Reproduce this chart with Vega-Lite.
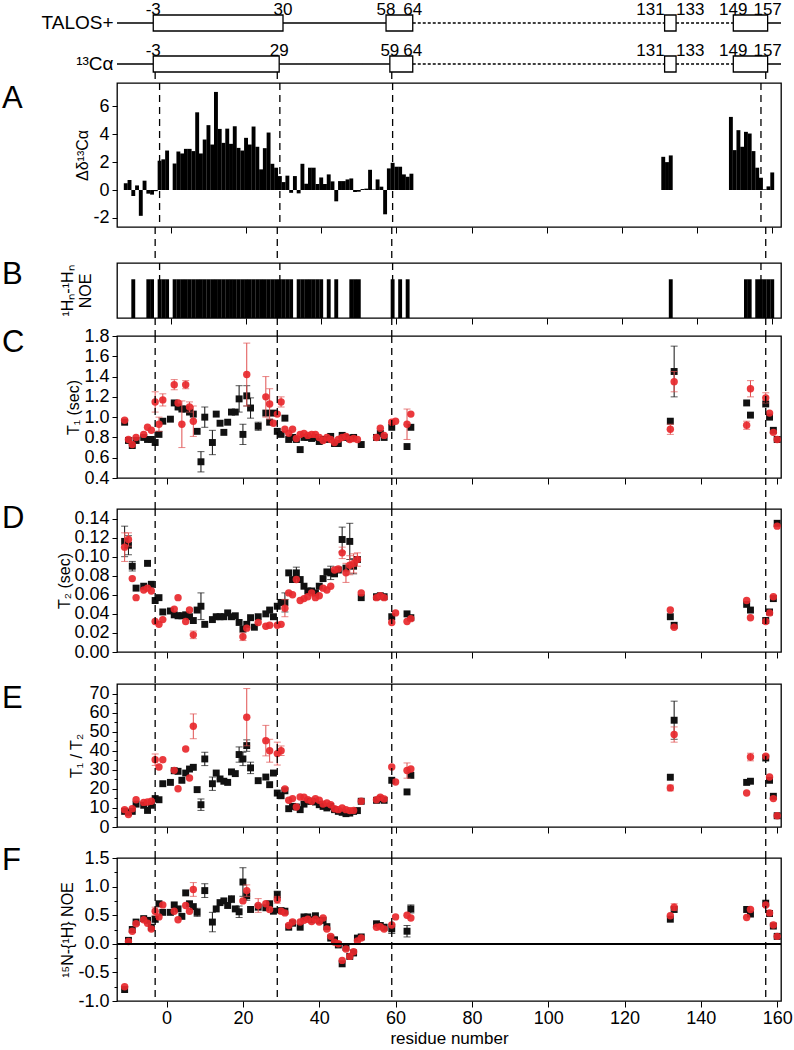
{
"$schema": "https://vega.github.io/schema/vega-lite/v6.json",
"padding": {"left": 1, "top": 0, "right": 0, "bottom": 5},
"background": "white",
"config": {
 "font": "Liberation Sans",
 "view": {"stroke": "#000", "strokeWidth": 1.3},
 "axis": {"domain": false, "grid": false, "tickColor": "#000", "tickSize": 5, "labelColor": "#000", "labelFontSize": 18, "labelFont": "Liberation Sans", "titleFont": "Liberation Sans", "titleFontSize": 16, "titleFontWeight": "normal", "titleColor": "#000", "labelPadding": 3, "titlePadding": 3, "labelOverlap": false, "labelFlush": false, "labelBound": false},
 "title": {"font": "Liberation Sans", "fontSize": 31, "fontWeight": "normal", "color": "#000", "orient": "top", "anchor": "start", "frame": "group", "align": "left", "baseline": "middle", "dx": -115, "offset": 0}
},
"datasets": {
 "dash": [{"x": -3}, {"x": 29}, {"x": 59}, {"x": 157}],
 "seg": [
  {"row": "TALOS+", "a": -13, "b": -3.5, "k": "line"},
  {"row": "TALOS+", "a": -3.5, "b": 30.5, "k": "box"},
  {"row": "TALOS+", "a": 30.5, "b": 57.5, "k": "line"},
  {"row": "TALOS+", "a": 57.5, "b": 64.5, "k": "box"},
  {"row": "TALOS+", "a": 64.5, "b": 130.5, "k": "dash"},
  {"row": "TALOS+", "a": 130.5, "b": 133.5, "k": "dbox"},
  {"row": "TALOS+", "a": 133.5, "b": 148.5, "k": "dash"},
  {"row": "TALOS+", "a": 148.5, "b": 157.5, "k": "box"},
  {"row": "TALOS+", "a": 157.5, "b": 161, "k": "line"},
  {"row": "¹³Cα", "a": -13, "b": -3.5, "k": "line"},
  {"row": "¹³Cα", "a": -3.5, "b": 29.5, "k": "box"},
  {"row": "¹³Cα", "a": 29.5, "b": 58.5, "k": "line"},
  {"row": "¹³Cα", "a": 58.5, "b": 64.5, "k": "box"},
  {"row": "¹³Cα", "a": 64.5, "b": 130.5, "k": "dash"},
  {"row": "¹³Cα", "a": 130.5, "b": 133.5, "k": "dbox"},
  {"row": "¹³Cα", "a": 133.5, "b": 148.5, "k": "dash"},
  {"row": "¹³Cα", "a": 148.5, "b": 157.5, "k": "box"},
  {"row": "¹³Cα", "a": 157.5, "b": 161, "k": "line"}
 ],
 "lab": [
  {"row": "TALOS+", "x": -3.5, "t": "-3", "al": "c"},
  {"row": "TALOS+", "x": 30.5, "t": "30", "al": "c"},
  {"row": "TALOS+", "x": 57.5, "t": "58", "al": "c"},
  {"row": "TALOS+", "x": 64.5, "t": "64", "al": "c"},
  {"row": "TALOS+", "x": 130.5, "t": "131", "al": "r"},
  {"row": "TALOS+", "x": 133.5, "t": "133", "al": "l"},
  {"row": "TALOS+", "x": 148.5, "t": "149", "al": "c"},
  {"row": "TALOS+", "x": 157.5, "t": "157", "al": "c"},
  {"row": "¹³Cα", "x": -3.5, "t": "-3", "al": "c"},
  {"row": "¹³Cα", "x": 29.5, "t": "29", "al": "c"},
  {"row": "¹³Cα", "x": 58.5, "t": "59", "al": "c"},
  {"row": "¹³Cα", "x": 64.5, "t": "64", "al": "c"},
  {"row": "¹³Cα", "x": 130.5, "t": "131", "al": "r"},
  {"row": "¹³Cα", "x": 133.5, "t": "133", "al": "l"},
  {"row": "¹³Cα", "x": 148.5, "t": "149", "al": "c"},
  {"row": "¹³Cα", "x": 157.5, "t": "157", "al": "c"}
 ],
 "cs": [
  {"res": -12, "v": 0.48}, {"res": -11, "v": 0.72}, {"res": -10, "v": -0.43}, {"res": -9, "v": 0.33}, {"res": -8, "v": -1.85}, {"res": -7, "v": 0.67}, {"res": -6, "v": -0.26}, {"res": -5, "v": -0.33}, {"res": -4, "v": -0.08}, {"res": -3, "v": 2.1}, {"res": -2, "v": 2.2}, {"res": -1, "v": 2.83},
  {"res": 1, "v": 1.9}, {"res": 2, "v": 2.76}, {"res": 3, "v": 2.62}, {"res": 4, "v": 2.95}, {"res": 5, "v": 2.95}, {"res": 6, "v": 2.79}, {"res": 7, "v": 5.57}, {"res": 8, "v": 2.62}, {"res": 9, "v": 3.62}, {"res": 10, "v": 4.65},
  {"res": 11, "v": 3.26}, {"res": 12, "v": 7.03}, {"res": 13, "v": 4.38}, {"res": 14, "v": 3.38}, {"res": 15, "v": 4.4}, {"res": 16, "v": 3.31}, {"res": 17, "v": 4.57}, {"res": 18, "v": 3.02}, {"res": 19, "v": 2.83}, {"res": 20, "v": 3.74},
  {"res": 21, "v": 3.26}, {"res": 22, "v": 4.55}, {"res": 23, "v": 3.1}, {"res": 24, "v": 1.48}, {"res": 25, "v": 3.0}, {"res": 26, "v": 4.12}, {"res": 27, "v": 1.88}, {"res": 28, "v": 1.6}, {"res": 29, "v": 1.0}, {"res": 30, "v": 0.57},
  {"res": 31, "v": 1.03}, {"res": 32, "v": -0.2}, {"res": 33, "v": 1.0}, {"res": 34, "v": -0.24}, {"res": 35, "v": 1.88}, {"res": 36, "v": 0.45}, {"res": 37, "v": 1.6}, {"res": 38, "v": 1.6}, {"res": 39, "v": 0.43}, {"res": 40, "v": 0.9},
  {"res": 41, "v": 0.43}, {"res": 42, "v": 1.12}, {"res": 43, "v": 0.62}, {"res": 44, "v": -0.81}, {"res": 45, "v": 0.64}, {"res": 46, "v": 0.64}, {"res": 47, "v": 0.76}, {"res": 48, "v": 0.83}, {"res": 49, "v": -0.14}, {"res": 50, "v": -0.12},
  {"res": 51, "v": 0.07}, {"res": 52, "v": 0.1}, {"res": 53, "v": 1.45}, {"res": 54, "v": 0.03}, {"res": 55, "v": 0.76}, {"res": 56, "v": 0.24}, {"res": 57, "v": -1.74}, {"res": 58, "v": 1.55}, {"res": 59, "v": 1.95}, {"res": 60, "v": 1.67},
  {"res": 61, "v": 1.67}, {"res": 62, "v": 1.12}, {"res": 63, "v": 0.95}, {"res": 64, "v": 1.17},
  {"res": 131, "v": 2.38}, {"res": 132, "v": 2.0}, {"res": 133, "v": 2.48},
  {"res": 149, "v": 5.24}, {"res": 150, "v": 2.86}, {"res": 151, "v": 4.29}, {"res": 152, "v": 3.1}, {"res": 153, "v": 4.17}, {"res": 154, "v": 4.05}, {"res": 155, "v": 2.79}, {"res": 156, "v": 1.6}, {"res": 157, "v": 0.88}, {"res": 158, "v": 0.05}, {"res": 159, "v": 0.26}, {"res": 160, "v": 1.26}
 ],
 "noe": [
  {"res": -10, "v": 1}, {"res": -6, "v": 1}, {"res": -5, "v": 1}, {"res": -3, "v": 1}, {"res": -2, "v": 1}, {"res": -1, "v": 1},
  {"res": 1, "v": 1}, {"res": 2, "v": 1}, {"res": 3, "v": 1}, {"res": 4, "v": 1}, {"res": 5, "v": 1}, {"res": 6, "v": 1}, {"res": 7, "v": 1}, {"res": 8, "v": 1}, {"res": 9, "v": 1}, {"res": 10, "v": 1},
  {"res": 11, "v": 1}, {"res": 12, "v": 1}, {"res": 13, "v": 1}, {"res": 14, "v": 1}, {"res": 15, "v": 1}, {"res": 16, "v": 1}, {"res": 17, "v": 1}, {"res": 18, "v": 1}, {"res": 19, "v": 1}, {"res": 20, "v": 1},
  {"res": 21, "v": 1}, {"res": 22, "v": 1}, {"res": 23, "v": 1}, {"res": 24, "v": 1}, {"res": 25, "v": 1}, {"res": 26, "v": 1}, {"res": 27, "v": 1}, {"res": 28, "v": 1}, {"res": 29, "v": 1}, {"res": 30, "v": 1},
  {"res": 31, "v": 1}, {"res": 32, "v": 1}, {"res": 34, "v": 1}, {"res": 35, "v": 1}, {"res": 36, "v": 1}, {"res": 37, "v": 1}, {"res": 38, "v": 1}, {"res": 39, "v": 1}, {"res": 40, "v": 1},
  {"res": 42, "v": 1}, {"res": 44, "v": 1}, {"res": 48, "v": 1}, {"res": 49, "v": 1}, {"res": 50, "v": 1}, {"res": 59, "v": 1}, {"res": 61, "v": 1}, {"res": 63, "v": 1},
  {"res": 133, "v": 1}, {"res": 153, "v": 1}, {"res": 154, "v": 1}, {"res": 156, "v": 1}, {"res": 157, "v": 1}, {"res": 158, "v": 1}, {"res": 159, "v": 1}, {"res": 160, "v": 1}
 ],
 "rel": [
  {"res": -11, "s": "k", "t1": 0.95, "t2": 0.116, "t2e": 0.016, "rt": 8.2, "noe": -0.80},
  {"res": -10, "s": "k", "t1": 0.77, "t2": 0.112, "t2e": 0.01, "rt": 7.7, "noe": 0.06},
  {"res": -9, "s": "k", "t1": 0.72, "t2": 0.090, "t2e": 0.005, "rt": 8.2, "noe": 0.25},
  {"res": -8, "s": "k", "t1": 0.77, "t2": 0.067, "rt": 12.0, "noe": 0.38},
  {"res": -6, "s": "k", "t1": 0.80, "t2": 0.069, "rt": 11.4, "noe": 0.44},
  {"res": -5, "s": "k", "t1": 0.78, "t2": 0.093, "rt": 8.7, "noe": 0.41},
  {"res": -4, "s": "k", "t1": 0.78, "t2": 0.071, "rt": 11.4, "noe": 0.29},
  {"res": -3, "s": "k", "t1": 0.75, "t2": 0.054, "rt": 14.9, "noe": 0.43, "noee": 0.05},
  {"res": -2, "s": "k", "t1": 0.83, "t2": 0.057, "rt": 14.3, "noe": 0.70},
  {"res": -1, "s": "k", "t1": 0.96, "t2": 0.042, "rt": 22.7, "noe": 0.55},
  {"res": 1, "s": "k", "t1": 0.98, "t2": 0.043, "rt": 23.4, "noe": 0.55},
  {"res": 2, "s": "k", "t1": 1.14, "t2": 0.039, "rt": 29.5, "noe": 0.68},
  {"res": 3, "s": "k", "t1": 1.10, "t2": 0.038, "rt": 29.2, "noe": 0.61},
  {"res": 4, "s": "k", "t1": 1.08, "t2": 0.038, "rt": 24.5, "noe": 0.48},
  {"res": 5, "s": "k", "t1": 1.08, "t2": 0.039, "rt": 28.3, "noe": 0.89},
  {"res": 6, "s": "k", "t1": 1.05, "t2": 0.037, "rt": 30.4, "noe": 0.70},
  {"res": 7, "s": "k", "t1": 1.03, "t2": 0.033, "rt": 31.3, "noe": 0.65},
  {"res": 8, "s": "k", "t1": 0.86, "t2": 0.044, "rt": 19.6, "noe": 0.55, "noee": 0.07},
  {"res": 9, "s": "k", "t1": 0.56, "t1e": 0.1, "t2": 0.048, "t2e": 0.014, "rt": 11.7, "rte": 3},
  {"res": 10, "s": "k", "t1": 1.00, "t1e": 0.1, "t2": 0.029, "rt": 35.7, "rte": 3.5, "noe": 0.93, "noee": 0.12},
  {"res": 12, "s": "k", "t1": 0.75, "t1e": 0.12, "t2": 0.034, "rt": 22.7, "rte": 3.5, "noe": 0.38, "noee": 0.17},
  {"res": 13, "s": "k", "t1": 1.03, "t2": 0.037, "rt": 28.3, "noe": 0.61},
  {"res": 14, "s": "k", "t1": 0.94, "t2": 0.037, "rt": 25.2, "noe": 0.72},
  {"res": 15, "s": "k", "t1": 0.85, "t2": 0.037, "rt": 24.0, "noe": 0.75},
  {"res": 16, "s": "k", "t1": 0.95, "t2": 0.041, "rt": 23.4, "noe": 0.67},
  {"res": 17, "s": "k", "t1": 1.05, "t2": 0.037, "rt": 28.9, "noe": 0.78, "noee": 0.06},
  {"res": 18, "s": "k", "t1": 1.05, "t2": 0.038, "rt": 28.0, "noe": 0.61},
  {"res": 19, "s": "k", "t1": 1.18, "t1e": 0.13, "t2": 0.031, "rt": 38.0, "rte": 4, "noe": 0.56, "noee": 0.1},
  {"res": 20, "s": "k", "t1": 0.83, "t1e": 0.1, "t2": 0.024, "rt": 35.7, "rte": 3.5, "noe": 1.08, "noee": 0.25},
  {"res": 21, "s": "k", "t1": 1.21, "t1e": 0.1, "t2": 0.029, "rt": 42.7, "rte": 3, "noe": 0.84, "noee": 0.08},
  {"res": 22, "s": "k", "t1": 1.09, "t1e": 0.1, "t2": 0.036, "rt": 31.0, "rte": 3, "noe": 0.60},
  {"res": 23, "s": "k", "t2": 0.026},
  {"res": 24, "s": "k", "t1": 0.91, "t1e": 0.04, "t2": 0.037, "rt": 24.3, "noe": 0.64},
  {"res": 26, "s": "k", "t1": 1.04, "t2": 0.040, "rt": 26.2, "noe": 0.63},
  {"res": 27, "s": "k", "t1": 0.95, "t2": 0.044, "rt": 22.2, "noe": 0.70},
  {"res": 28, "s": "k", "t1": 1.04, "t2": 0.037, "rt": 28.3, "noe": 0.57},
  {"res": 29, "s": "k", "t1": 0.86, "t2": 0.048, "rt": 17.8, "noe": 0.86, "noee": 0.06},
  {"res": 30, "s": "k", "t1": 0.83, "t2": 0.052, "rt": 16.4, "noe": 0.58},
  {"res": 31, "s": "k", "t1": 0.99, "t2": 0.052, "t2e": 0.01, "rt": 19.0, "noe": 0.57},
  {"res": 32, "s": "k", "t1": 0.78, "t2": 0.083, "rt": 9.6, "noe": 0.29},
  {"res": 33, "s": "k", "t1": 0.80, "t2": 0.076, "rt": 10.8, "noe": 0.36},
  {"res": 34, "s": "k", "t1": 0.78, "t2": 0.083, "t2e": 0.006, "rt": 10.5},
  {"res": 35, "s": "k", "t1": 0.68, "t2": 0.076, "rt": 9.1, "noe": 0.29},
  {"res": 36, "s": "k", "t1": 0.80, "t2": 0.069, "rt": 12.0, "noe": 0.47},
  {"res": 37, "s": "k", "t1": 0.80, "t2": 0.064, "rt": 13.5, "noe": 0.47},
  {"res": 38, "s": "k", "t1": 0.79, "t2": 0.064, "rt": 13.5, "noe": 0.42},
  {"res": 39, "s": "k", "t1": 0.80, "t2": 0.062, "rt": 13.1, "noe": 0.49},
  {"res": 40, "s": "k", "t1": 0.76, "t2": 0.069, "rt": 11.7, "noe": 0.41},
  {"res": 41, "s": "k", "t1": 0.78, "t2": 0.077, "rt": 10.8, "noe": 0.41},
  {"res": 42, "s": "k", "t1": 0.78, "t2": 0.084, "rt": 10.0, "noe": 0.30},
  {"res": 43, "s": "k", "t1": 0.81, "t2": 0.083, "t2e": 0.007, "rt": 10.8, "noe": 0.10},
  {"res": 44, "s": "k", "t1": 0.74, "t2": 0.082, "rt": 9.1, "noe": 0.07},
  {"res": 45, "s": "k", "t1": 0.74, "t2": 0.086, "rt": 8.2, "noe": -0.02},
  {"res": 46, "s": "k", "t1": 0.82, "t2": 0.118, "t2e": 0.013, "rt": 7.7, "noe": -0.35},
  {"res": 47, "s": "k", "t1": 0.80, "t2": 0.088, "rt": 7.0, "noe": -0.06},
  {"res": 48, "s": "k", "t1": 0.79, "t2": 0.116, "t2e": 0.019, "rt": 7.3, "noe": -0.22},
  {"res": 49, "s": "k", "t1": 0.80, "t2": 0.090, "t2e": 0.008, "rt": 8.2, "noe": -0.16},
  {"res": 50, "s": "k", "t2": 0.097, "rt": 8.6, "noe": 0.10},
  {"res": 51, "s": "k", "t1": 0.73, "t2": 0.057, "rt": 13.5, "noe": 0.12},
  {"res": 55, "s": "k", "t1": 0.80, "t2": 0.058, "rt": 14.0, "noe": 0.35},
  {"res": 56, "s": "k", "t1": 0.84, "t2": 0.059, "rt": 14.7, "noe": 0.32},
  {"res": 57, "s": "k", "t1": 0.80, "t2": 0.058, "rt": 14.0, "noe": 0.29},
  {"res": 59, "s": "k", "t1": 0.90, "t2": 0.037, "rt": 24.5, "noe": 0.26, "noee": 0.08},
  {"res": 63, "s": "k", "t1": 0.71, "t2": 0.040, "rt": 18.4, "noe": 0.22, "noee": 0.1},
  {"res": 64, "s": "k", "t1": 0.90, "t2": 0.036, "rt": 27.1, "noe": 0.61, "noee": 0.07},
  {"res": 132, "s": "k", "t1": 0.96, "t2": 0.037, "rt": 26.1, "noe": 0.43},
  {"res": 133, "s": "k", "t1": 1.45, "t1e": 0.25, "t2": 0.028, "rt": 56, "rte": 10, "noe": 0.60},
  {"res": 152, "s": "k", "t1": 1.14, "t2": 0.050, "rt": 23.4, "noe": 0.60},
  {"res": 153, "s": "k", "t1": 1.02, "t2": 0.044, "rt": 24.0, "noe": 0.52},
  {"res": 157, "s": "k", "t1": 1.13, "t2": 0.033, "rt": 36.2, "noe": 0.71},
  {"res": 158, "s": "k", "t1": 1.00, "t2": 0.042, "rt": 24.5, "noe": 0.53},
  {"res": 159, "s": "k", "t1": 0.87, "t2": 0.056, "rt": 16.1, "noe": 0.31},
  {"res": 160, "s": "k", "t1": 0.78, "t2": 0.135, "rt": 5.9, "noe": 0.13},
  {"res": -11, "s": "r", "t1": 0.97, "t2": 0.110, "t2e": 0.015, "rt": 9.1, "noe": -0.75},
  {"res": -10, "s": "r", "t1": 0.78, "t2": 0.118, "t2e": 0.007, "rt": 6.5, "noe": 0.04},
  {"res": -9, "s": "r", "t1": 0.73, "t2": 0.077, "rt": 9.6, "noe": 0.22},
  {"res": -8, "s": "r", "t1": 0.80, "t2": 0.057, "rt": 14.3, "noe": 0.35},
  {"res": -6, "s": "r", "t1": 0.83, "t2": 0.065, "rt": 12.9, "noe": 0.42},
  {"res": -5, "s": "r", "t1": 0.90, "t2": 0.067, "rt": 13.1, "noe": 0.36},
  {"res": -4, "s": "r", "t1": 0.87, "t2": 0.064, "rt": 13.5, "noe": 0.26},
  {"res": -3, "s": "r", "t1": 1.15, "t1e": 0.1, "t2": 0.032, "rt": 35.3, "rte": 3, "noe": 0.57, "noee": 0.07},
  {"res": -2, "s": "r", "t1": 0.93, "t1e": 0.07, "t2": 0.029, "rt": 31.5, "noe": 0.47},
  {"res": -1, "s": "r", "t1": 1.17, "t1e": 0.06, "t2": 0.034, "rt": 35.3, "noe": 0.68},
  {"res": 2, "s": "r", "t1": 1.32, "t1e": 0.05, "t2": 0.045, "rt": 29.7, "noe": 0.57},
  {"res": 3, "s": "r", "t1": 1.14, "t2": 0.057, "rt": 20.1, "noe": 0.42},
  {"res": 4, "s": "r", "t1": 0.93, "t1e": 0.23},
  {"res": 5, "s": "r", "t1": 1.32, "t1e": 0.04, "t2": 0.032, "rt": 40.9, "noe": 0.67},
  {"res": 6, "s": "r", "t1": 1.10, "t1e": 0.05, "t2": 0.044, "rt": 25.7, "noe": 0.57},
  {"res": 7, "s": "r", "t1": 0.96, "t1e": 0.15, "t2": 0.018, "t2e": 0.004, "rt": 52.8, "rte": 6.5, "noe": 0.95, "noee": 0.12},
  {"res": 20, "s": "r", "t2": 0.016, "t2e": 0.004, "noe": 0.75},
  {"res": 21, "s": "r", "t1": 1.42, "t1e": 0.31, "t2": 0.025, "rt": 57.6, "rte": 15, "noe": 0.93, "noee": 0.1},
  {"res": 24, "s": "r", "t2": 0.031, "noe": 0.67, "noee": 0.12},
  {"res": 26, "s": "r", "t1": 1.20, "t1e": 0.2, "t2": 0.027, "rt": 45.3, "rte": 8, "noe": 0.70},
  {"res": 27, "s": "r", "t1": 1.13, "t1e": 0.15, "t2": 0.028, "rt": 40.0, "rte": 6, "noe": 0.60},
  {"res": 28, "s": "r", "t1": 0.94},
  {"res": 29, "s": "r", "t1": 1.03, "t2": 0.028, "rt": 38.5, "rte": 6, "noe": 0.77, "noee": 0.06},
  {"res": 30, "s": "r", "t1": 1.15, "t1e": 0.05, "t2": 0.029, "rt": 40.0, "rte": 2.5, "noe": 0.57},
  {"res": 31, "s": "r", "t1": 0.88, "t2": 0.046, "t2e": 0.009, "rt": 20.0, "noe": 0.54},
  {"res": 32, "s": "r", "t1": 0.84, "t2": 0.062, "rt": 14.0, "noe": 0.32},
  {"res": 33, "s": "r", "t1": 0.88, "t2": 0.060, "rt": 14.9, "noe": 0.38},
  {"res": 34, "s": "r", "t1": 0.79, "t2": 0.076, "rt": 10.5},
  {"res": 35, "s": "r", "t1": 0.83, "t2": 0.054, "rt": 15.7, "noe": 0.38},
  {"res": 36, "s": "r", "t1": 0.84, "t2": 0.056, "rt": 15.6, "noe": 0.41},
  {"res": 37, "s": "r", "t1": 0.82, "t2": 0.058, "rt": 14.3, "noe": 0.43},
  {"res": 38, "s": "r", "t1": 0.83, "t2": 0.062, "rt": 13.5, "noe": 0.39},
  {"res": 39, "s": "r", "t1": 0.83, "t2": 0.057, "rt": 14.9, "noe": 0.43},
  {"res": 40, "s": "r", "t1": 0.80, "t2": 0.059, "rt": 14.0, "noe": 0.38},
  {"res": 41, "s": "r", "t1": 0.77, "t2": 0.067, "rt": 12.0, "noe": 0.45},
  {"res": 42, "s": "r", "t1": 0.80, "t2": 0.065, "rt": 12.6, "noe": 0.26},
  {"res": 43, "s": "r", "t1": 0.78, "t2": 0.069, "rt": 11.7, "noe": 0.13},
  {"res": 44, "s": "r", "t1": 0.75, "t2": 0.086, "rt": 9.6, "noe": 0.03},
  {"res": 45, "s": "r", "t1": 0.78, "t2": 0.087, "rt": 9.1, "noe": 0.0},
  {"res": 46, "s": "r", "t1": 0.80, "t2": 0.104, "t2e": 0.006, "rt": 10.0, "noe": -0.29},
  {"res": 47, "s": "r", "t1": 0.81, "t2": 0.083, "t2e": 0.01, "rt": 9.1, "noe": -0.09},
  {"res": 48, "s": "r", "t1": 0.78, "t2": 0.091, "t2e": 0.01, "rt": 8.6, "noe": -0.22},
  {"res": 49, "s": "r", "t1": 0.79, "t2": 0.093, "t2e": 0.01, "rt": 8.7, "noe": -0.14},
  {"res": 50, "s": "r", "t1": 0.78, "t2": 0.097, "t2e": 0.007, "noe": 0.05},
  {"res": 51, "s": "r", "t2": 0.062, "rt": 13.5, "noe": 0.10},
  {"res": 55, "s": "r", "t1": 0.80, "t2": 0.057, "rt": 14.3, "noe": 0.29},
  {"res": 56, "s": "r", "t1": 0.89, "t2": 0.059, "rt": 15.6, "noe": 0.30},
  {"res": 57, "s": "r", "t1": 0.82, "t2": 0.057, "rt": 14.7, "noe": 0.26},
  {"res": 59, "s": "r", "t1": 0.95, "t2": 0.031, "rt": 31.5, "noe": 0.33},
  {"res": 60, "s": "r", "t1": 0.96, "t2": 0.041, "rt": 23.6, "noe": 0.47},
  {"res": 63, "s": "r", "t1": 0.93, "t1e": 0.15, "t2": 0.032, "rt": 29.6, "rte": 4, "noe": 0.50},
  {"res": 64, "s": "r", "t1": 1.03, "t2": 0.035, "rt": 30.4, "noe": 0.45},
  {"res": 132, "s": "r", "t1": 0.88, "t1e": 0.05, "t2": 0.044, "rt": 20.5, "rte": 1.5, "noe": 0.49},
  {"res": 133, "s": "r", "t1": 1.35, "t1e": 0.1, "t2": 0.026, "rt": 48.5, "rte": 4, "noe": 0.64, "noee": 0.06},
  {"res": 152, "s": "r", "t1": 0.92, "t1e": 0.04, "t2": 0.054, "rt": 17.8, "noe": 0.46},
  {"res": 153, "s": "r", "t1": 1.28, "t1e": 0.08, "t2": 0.036, "rt": 36.7, "rte": 2, "noe": 0.60},
  {"res": 157, "s": "r", "t1": 1.19, "t1e": 0.05, "t2": 0.032, "rt": 37.1, "noe": 0.68},
  {"res": 158, "s": "r", "t1": 1.04, "t2": 0.041, "rt": 26.2, "noe": 0.54},
  {"res": 159, "s": "r", "t1": 0.85, "t2": 0.058, "rt": 14.9, "noe": 0.33},
  {"res": 160, "s": "r", "t1": 0.78, "t2": 0.132, "rt": 5.9, "noe": 0.13}
 ]
},
"bounds": "flush",
"spacing": 0,
"vconcat": [
 {
  "width": 664, "height": 69,
  "view": {"stroke": null},
  "layer": [
   {"data": {"name": "seg"}, "transform": [{"filter": "datum.k == 'line' || datum.k == 'dash'"}],
    "mark": {"type": "rule", "color": "#000", "strokeWidth": 1.3},
    "encoding": {
     "x": {"field": "a", "type": "quantitative", "scale": {"domain": [-13, 161], "nice": false, "zero": false}, "axis": null},
     "x2": {"field": "b"},
     "y": {"field": "row", "type": "nominal", "scale": {"domain": ["TALOS+", "¹³Cα"], "paddingInner": 0.61, "paddingOuter": 0.146, "align": 1}, "axis": {"title": null, "ticks": false, "domain": false, "labelFontSize": 19, "labelPadding": 4}},
     "strokeDash": {"field": "k", "type": "nominal", "scale": {"domain": ["line", "dash", "box", "dbox"], "range": [[1, 0], [3, 2], [1, 0], [3, 2]]}, "legend": null}
    }},
   {"data": {"name": "seg"}, "transform": [{"filter": "datum.k == 'box' || datum.k == 'dbox'"}],
    "mark": {"type": "rect", "fill": "#fff", "stroke": "#000", "strokeWidth": 1.3},
    "encoding": {
     "x": {"field": "a", "type": "quantitative"},
     "x2": {"field": "b"},
     "y": {"field": "row", "type": "nominal"},
     "strokeDash": {"field": "k", "type": "nominal", "scale": {"domain": ["line", "dash", "box", "dbox"], "range": [[1, 0], [3, 2], [1, 0], [3, 2]]}, "legend": null}
    }},
   {"data": {"name": "lab"}, "transform": [{"filter": "datum.al == 'c'"}],
    "mark": {"type": "text", "fontSize": 17, "baseline": "alphabetic", "align": "center", "dy": -8, "color": "#000"},
    "encoding": {"x": {"field": "x", "type": "quantitative"}, "y": {"field": "row", "type": "nominal"}, "text": {"field": "t"}}},
   {"data": {"name": "lab"}, "transform": [{"filter": "datum.al == 'r'"}],
    "mark": {"type": "text", "fontSize": 17, "baseline": "alphabetic", "align": "right", "dy": -8, "color": "#000"},
    "encoding": {"x": {"field": "x", "type": "quantitative"}, "y": {"field": "row", "type": "nominal"}, "text": {"field": "t"}}},
   {"data": {"name": "lab"}, "transform": [{"filter": "datum.al == 'l'"}],
    "mark": {"type": "text", "fontSize": 17, "baseline": "alphabetic", "align": "left", "dy": -8, "color": "#000"},
    "encoding": {"x": {"field": "x", "type": "quantitative"}, "y": {"field": "row", "type": "nominal"}, "text": {"field": "t"}}}
  ]
 },
 {"width": 664, "height": 11, "view": {"stroke": null}, "data": {"name": "dash"},
  "mark": {"type": "rule", "color": "#000", "strokeWidth": 1.3, "strokeDash": [7, 5]},
  "encoding": {"x": {"field": "x", "type": "quantitative", "scale": {"domain": [-13, 161], "nice": false, "zero": false}, "axis": null}}},
 {
  "width": 664, "height": 144,
  "title": {"text": "A", "dy": 37},
  "layer": [
   {"data": {"name": "cs"}, "mark": {"type": "bar", "width": 3.9, "color": "#000"},
    "encoding": {
     "x": {"field": "res", "type": "quantitative", "scale": {"domain": [-13, 161], "nice": false, "zero": false}, "axis": {"values": [0, 20, 40, 60, 80, 100, 120, 140, 160], "tickCount": 100, "labels": false, "title": null, "tickSize": 6}},
     "y": {"field": "v", "type": "quantitative", "title": "Δδ¹³Cα", "scale": {"domain": [-2.65, 7.67], "nice": false, "zero": false}, "axis": {"values": [-2, 0, 2, 4, 6], "tickCount": 100, "labelExpr": "replace(format(datum.value, 'd'), '\u2212', '-')", "titlePadding": 2}}
    }},
   {"data": {"name": "dash"}, "mark": {"type": "rule", "color": "#000", "strokeWidth": 1.3, "strokeDash": [7, 5]},
    "encoding": {"x": {"field": "x", "type": "quantitative"}}},
   {"mark": {"type": "rule", "color": "#000", "strokeWidth": 1.3}, "encoding": {"y": {"datum": 0}}}
  ]
 },
 {"width": 664, "height": 36, "view": {"stroke": null}, "data": {"name": "dash"},
  "mark": {"type": "rule", "color": "#000", "strokeWidth": 1.3, "strokeDash": [7, 5]},
  "encoding": {"x": {"field": "x", "type": "quantitative", "scale": {"domain": [-13, 161], "nice": false, "zero": false}, "axis": null}}},
 {
  "width": 664, "height": 55,
  "title": {"text": "B", "dy": 33},
  "layer": [
   {"data": {"name": "noe"}, "mark": {"type": "bar", "width": 3.9, "color": "#000"},
    "encoding": {
     "x": {"field": "res", "type": "quantitative", "scale": {"domain": [-13, 161], "nice": false, "zero": false}, "axis": {"values": [0, 20, 40, 60, 80, 100, 120, 140, 160], "tickCount": 100, "labels": false, "title": null, "tickSize": 6}},
     "y": {"field": "v", "type": "quantitative", "title": ["¹Hₙ-¹Hₙ", "NOE"], "scale": {"domain": [0, 1.42], "nice": false}, "axis": {"labels": false, "ticks": false, "titlePadding": 24}}
    }},
   {"data": {"name": "dash"}, "mark": {"type": "rule", "color": "#000", "strokeWidth": 1.3, "strokeDash": [7, 5]},
    "encoding": {"x": {"field": "x", "type": "quantitative"}}}
  ]
 },
 {"width": 664, "height": 18, "view": {"stroke": null}, "data": {"name": "dash"},
  "mark": {"type": "rule", "color": "#000", "strokeWidth": 1.3, "strokeDash": [7, 5]},
  "encoding": {"x": {"field": "x", "type": "quantitative", "scale": {"domain": [-13, 161], "nice": false, "zero": false}, "axis": null}}},
 {
  "width": 664, "height": 142,
  "title": {"text": "C", "dy": 36},
  "data": {"name": "rel"},
  "layer": [
   {"transform": [{"filter": "datum.s == 'k' && isValid(datum.t1e)"}], "mark": {"type": "errorbar", "ticks": {"size": 7}, "color": "#111", "thickness": 1},
    "encoding": {
     "x": {"field": "res", "type": "quantitative", "scale": {"domain": [-13, 161], "nice": false, "zero": false}, "axis": {"values": [0, 20, 40, 60, 80, 100, 120, 140, 160], "tickCount": 100, "labels": false, "title": null, "tickSize": 6}},
     "y": {"field": "t1", "type": "quantitative", "title": "T₁ (sec)", "scale": {"domain": [0.4, 1.8], "nice": false, "zero": false}, "axis": {"values": [0.4, 0.6, 0.8, 1.0, 1.2, 1.4, 1.6, 1.8], "tickCount": 100, "format": ".1f", "titlePadding": 2}},
     "yError": {"field": "t1e"}
    }},
   {"transform": [{"filter": "datum.s == 'k' && isValid(datum.t1)"}], "mark": {"type": "square", "size": 48, "color": "#111", "opacity": 1},
    "encoding": {"x": {"field": "res", "type": "quantitative"}, "y": {"field": "t1", "type": "quantitative", "title": "T₁ (sec)"}}},
   {"transform": [{"filter": "datum.s == 'r' && isValid(datum.t1e)"}], "mark": {"type": "errorbar", "ticks": {"size": 7}, "color": "#e05050", "thickness": 1},
    "encoding": {"x": {"field": "res", "type": "quantitative"}, "y": {"field": "t1", "type": "quantitative", "title": "T₁ (sec)"}, "yError": {"field": "t1e"}}},
   {"transform": [{"filter": "datum.s == 'r' && isValid(datum.t1)"}], "mark": {"type": "circle", "size": 55, "color": "#e8282c", "opacity": 0.92},
    "encoding": {"x": {"field": "res", "type": "quantitative"}, "y": {"field": "t1", "type": "quantitative", "title": "T₁ (sec)"}}},
   {"data": {"name": "dash"}, "mark": {"type": "rule", "color": "#000", "strokeWidth": 1.3, "strokeDash": [7, 5]},
    "encoding": {"x": {"field": "x", "type": "quantitative"}}}
  ]
 },
 {"width": 664, "height": 31, "view": {"stroke": null}, "data": {"name": "dash"},
  "mark": {"type": "rule", "color": "#000", "strokeWidth": 1.3, "strokeDash": [7, 5]},
  "encoding": {"x": {"field": "x", "type": "quantitative", "scale": {"domain": [-13, 161], "nice": false, "zero": false}, "axis": null}}},
 {
  "width": 664, "height": 143,
  "title": {"text": "D", "dy": 31},
  "data": {"name": "rel"},
  "layer": [
   {"transform": [{"filter": "datum.s == 'k' && isValid(datum.t2e)"}], "mark": {"type": "errorbar", "ticks": {"size": 7}, "color": "#111", "thickness": 1},
    "encoding": {
     "x": {"field": "res", "type": "quantitative", "scale": {"domain": [-13, 161], "nice": false, "zero": false}, "axis": {"values": [0, 20, 40, 60, 80, 100, 120, 140, 160], "tickCount": 100, "labels": false, "title": null, "tickSize": 6}},
     "y": {"field": "t2", "type": "quantitative", "title": "T₂ (sec)", "scale": {"domain": [0, 0.15], "nice": false, "zero": false}, "axis": {"values": [0, 0.02, 0.04, 0.06, 0.08, 0.1, 0.12, 0.14], "tickCount": 100, "format": ".2f", "titlePadding": 1}},
     "yError": {"field": "t2e"}
    }},
   {"transform": [{"filter": "datum.s == 'k' && isValid(datum.t2)"}], "mark": {"type": "square", "size": 48, "color": "#111", "opacity": 1},
    "encoding": {"x": {"field": "res", "type": "quantitative"}, "y": {"field": "t2", "type": "quantitative", "title": "T₂ (sec)"}}},
   {"transform": [{"filter": "datum.s == 'r' && isValid(datum.t2e)"}], "mark": {"type": "errorbar", "ticks": {"size": 7}, "color": "#e05050", "thickness": 1},
    "encoding": {"x": {"field": "res", "type": "quantitative"}, "y": {"field": "t2", "type": "quantitative", "title": "T₂ (sec)"}, "yError": {"field": "t2e"}}},
   {"transform": [{"filter": "datum.s == 'r' && isValid(datum.t2)"}], "mark": {"type": "circle", "size": 55, "color": "#e8282c", "opacity": 0.92},
    "encoding": {"x": {"field": "res", "type": "quantitative"}, "y": {"field": "t2", "type": "quantitative", "title": "T₂ (sec)"}}},
   {"data": {"name": "dash"}, "mark": {"type": "rule", "color": "#000", "strokeWidth": 1.3, "strokeDash": [7, 5]},
    "encoding": {"x": {"field": "x", "type": "quantitative"}}}
  ]
 },
 {"width": 664, "height": 32, "view": {"stroke": null}, "data": {"name": "dash"},
  "mark": {"type": "rule", "color": "#000", "strokeWidth": 1.3, "strokeDash": [7, 5]},
  "encoding": {"x": {"field": "x", "type": "quantitative", "scale": {"domain": [-13, 161], "nice": false, "zero": false}, "axis": null}}},
 {
  "width": 664, "height": 143,
  "title": {"text": "E", "dy": 36},
  "data": {"name": "rel"},
  "layer": [
   {"transform": [{"filter": "datum.s == 'k' && isValid(datum.rte)"}], "mark": {"type": "errorbar", "ticks": {"size": 7}, "color": "#111", "thickness": 1},
    "encoding": {
     "x": {"field": "res", "type": "quantitative", "scale": {"domain": [-13, 161], "nice": false, "zero": false}, "axis": {"values": [0, 20, 40, 60, 80, 100, 120, 140, 160], "tickCount": 100, "labels": false, "title": null, "tickSize": 6}},
     "y": {"field": "rt", "type": "quantitative", "title": "T₁ / T₂", "scale": {"domain": [0, 75], "nice": false, "zero": false}, "axis": {"values": [0, 5, 10, 15, 20, 25, 30, 35, 40, 45, 50, 55, 60, 65, 70], "tickCount": 100, "labelExpr": "datum.value % 10 === 0 ? format(datum.value, 'd') : ''", "tickSize": {"condition": {"test": "datum.value % 10 === 0", "value": 5}, "value": 3}, "titlePadding": 4}},
     "yError": {"field": "rte"}
    }},
   {"transform": [{"filter": "datum.s == 'k' && isValid(datum.rt)"}], "mark": {"type": "square", "size": 48, "color": "#111", "opacity": 1},
    "encoding": {"x": {"field": "res", "type": "quantitative"}, "y": {"field": "rt", "type": "quantitative", "title": "T₁ / T₂"}}},
   {"transform": [{"filter": "datum.s == 'r' && isValid(datum.rte)"}], "mark": {"type": "errorbar", "ticks": {"size": 7}, "color": "#e05050", "thickness": 1},
    "encoding": {"x": {"field": "res", "type": "quantitative"}, "y": {"field": "rt", "type": "quantitative", "title": "T₁ / T₂"}, "yError": {"field": "rte"}}},
   {"transform": [{"filter": "datum.s == 'r' && isValid(datum.rt)"}], "mark": {"type": "circle", "size": 55, "color": "#e8282c", "opacity": 0.92},
    "encoding": {"x": {"field": "res", "type": "quantitative"}, "y": {"field": "rt", "type": "quantitative", "title": "T₁ / T₂"}}},
   {"data": {"name": "dash"}, "mark": {"type": "rule", "color": "#000", "strokeWidth": 1.3, "strokeDash": [7, 5]},
    "encoding": {"x": {"field": "x", "type": "quantitative"}}}
  ]
 },
 {"width": 664, "height": 31, "view": {"stroke": null}, "data": {"name": "dash"},
  "mark": {"type": "rule", "color": "#000", "strokeWidth": 1.3, "strokeDash": [7, 5]},
  "encoding": {"x": {"field": "x", "type": "quantitative", "scale": {"domain": [-13, 161], "nice": false, "zero": false}, "axis": null}}},
 {
  "width": 664, "height": 143,
  "title": {"text": "F", "dy": 32},
  "data": {"name": "rel"},
  "layer": [
   {"transform": [{"filter": "datum.s == 'k' && isValid(datum.noee)"}], "mark": {"type": "errorbar", "ticks": {"size": 7}, "color": "#111", "thickness": 1},
    "encoding": {
     "x": {"field": "res", "type": "quantitative", "title": "residue number", "scale": {"domain": [-13, 161], "nice": false, "zero": false}, "axis": {"values": [0, 20, 40, 60, 80, 100, 120, 140, 160], "tickCount": 100, "format": "d", "titleFontSize": 17, "tickSize": 6, "labelPadding": 2, "titlePadding": 3}},
     "y": {"field": "noe", "type": "quantitative", "title": "¹⁵N-{¹H} NOE", "scale": {"domain": [-1, 1.5], "nice": false, "zero": false}, "axis": {"values": [-1, -0.75, -0.5, -0.25, 0, 0.25, 0.5, 0.75, 1, 1.25, 1.5], "tickCount": 100, "labelExpr": "abs(round(datum.value * 4)) % 2 === 0 ? replace(format(datum.value, '.1f'), '\u2212', '-') : ''", "tickSize": {"condition": {"test": "abs(round(datum.value * 4)) % 2 === 0", "value": 5}, "value": 3}, "titlePadding": 2}},
     "yError": {"field": "noee"}
    }},
   {"transform": [{"filter": "datum.s == 'k' && isValid(datum.noe)"}], "mark": {"type": "square", "size": 48, "color": "#111", "opacity": 1},
    "encoding": {"x": {"field": "res", "type": "quantitative", "title": "residue number"}, "y": {"field": "noe", "type": "quantitative", "title": "¹⁵N-{¹H} NOE"}}},
   {"transform": [{"filter": "datum.s == 'r' && isValid(datum.noee)"}], "mark": {"type": "errorbar", "ticks": {"size": 7}, "color": "#e05050", "thickness": 1},
    "encoding": {"x": {"field": "res", "type": "quantitative", "title": "residue number"}, "y": {"field": "noe", "type": "quantitative", "title": "¹⁵N-{¹H} NOE"}, "yError": {"field": "noee"}}},
   {"transform": [{"filter": "datum.s == 'r' && isValid(datum.noe)"}], "mark": {"type": "circle", "size": 55, "color": "#e8282c", "opacity": 0.92},
    "encoding": {"x": {"field": "res", "type": "quantitative", "title": "residue number"}, "y": {"field": "noe", "type": "quantitative", "title": "¹⁵N-{¹H} NOE"}}},
   {"data": {"name": "dash"}, "mark": {"type": "rule", "color": "#000", "strokeWidth": 1.3, "strokeDash": [7, 5]},
    "encoding": {"x": {"field": "x", "type": "quantitative", "title": "residue number"}}},
   {"mark": {"type": "rule", "color": "#000", "strokeWidth": 1.3}, "encoding": {"y": {"datum": 0}}}
  ]
 }
]
}
